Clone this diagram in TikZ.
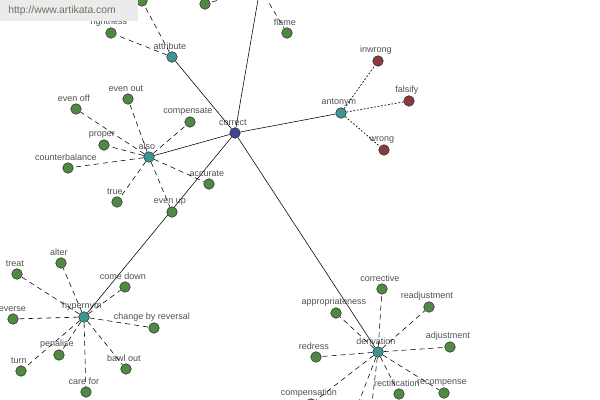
\documentclass[tikz,border=0pt]{standalone}
\usepackage{fontspec}
\setmainfont{Liberation Sans}
\definecolor{leafgreen}{RGB}{78,138,66}
\definecolor{relteal}{RGB}{58,150,148}
\definecolor{antired}{RGB}{138,58,60}
\definecolor{rootblue}{RGB}{62,68,150}
\definecolor{lblgray}{RGB}{80,80,80}
\definecolor{markgray}{RGB}{105,115,95}
\tikzset{
  dot/.style={circle,draw=black!80,line width=0.4pt,minimum size=7.5pt,inner sep=0pt},
  leaf/.style={dot,fill=leafgreen},
  rel/.style={dot,fill=relteal},
  anti/.style={dot,fill=antired},
  lbl/.style={text=lblgray,font=\fontsize{6.4}{7}\selectfont,inner sep=0.8pt,xshift=-1.5pt},
  dashlink/.style={line width=0.4pt,dash pattern=on 3.6pt off 2.8pt},
  dotlink/.style={line width=0.5pt,dash pattern=on 1.2pt off 1.3pt},
}

\begin{document}
\begin{tikzpicture}[x=0.025cm,y=-0.025cm,label distance=0pt]
   \useasboundingbox (0,0) rectangle (600,400);
   \clip (0,0) rectangle (600,400);
   % centre and relation nodes
   \node[dot,fill=rootblue,label={[lbl]above:correct}] (correct) at (235,133) {};
   \node[rel,label={[lbl]above:attribute}] (attribute) at (172,57) {};
   \node[rel,label={[lbl]above:antonym}] (antonym) at (341,113) {};
   \node[rel,label={[lbl]above:also}] (also) at (149,157) {};
   \node[rel,label={[lbl]above:hypernym}] (hypernym) at (84,317) {};
   \node[rel,label={[lbl]above:derivation}] (derivation) at (378,352) {};
   \coordinate (upper) at (260,-12);
   \foreach \r in {attribute,antonym,also,hypernym,derivation} {
    \draw[line width=0.4pt] (correct) -- (\r);
   }
   \draw[line width=0.4pt] (correct) -- (upper);
   % upper part
   \node[leaf,label={[lbl]above:rightness}] (rightness) at (111,33) {};
   \node[leaf] (attrtop) at (142,1) {};
   \draw[dashlink] (attribute) -- (rightness);
   \draw[dashlink] (attribute) -- (attrtop);
   \node[leaf,label={[lbl]above:flame}] (flame) at (287,33) {};
   \node[leaf] (uppertop) at (205,4) {};
   \draw[dashlink] (upper) -- (flame);
   \draw[dashlink] (upper) -- (uppertop);
   % antonym
   \foreach \n/\x/\y/\t in {inwrong/378/61/inwrong,falsify/409/101/falsify,wrong/384/150/wrong} {
    \node[anti,label={[lbl]above:\t}] (\n) at (\x,\y) {};
    \draw[dotlink] (antonym) -- (\n);
   }
   % also
   \foreach \n/\x/\y/\t in {evenoff/76/109/even off,evenout/128/99/even out,
      compensate/190/122/compensate,proper/104/145/proper,
      counterbal/68/168/counterbalance,true/117/202/true,
      accurate/209/184/accurate,evenup/172/212/even up} {
    \node[leaf,label={[lbl]above:\t}] (\n) at (\x,\y) {};
    \draw[dashlink] (also) -- (\n);
   }
   % hypernym
   \foreach \n/\x/\y/\t in {treat/17/274/treat,alter/61/263/alter,
      comedown/125/287/come down,reverse/13/319/reverse,
      changerev/154/328/change by reversal,penalise/59/355/penalise,
      turn/21/371/turn,bawlout/126/369/bawl out,carefor/86/392/care for} {
    \node[leaf,label={[lbl]above:\t}] (\n) at (\x,\y) {};
    \draw[dashlink] (hypernym) -- (\n);
   }
   % derivation
   \foreach \n/\x/\y/\t in {corrective/382/289/corrective,
      appropriate/336/313/appropriateness,readjust/429/307/readjustment,
      redress/316/357/redress,adjustment/450/347/adjustment,
      compensation/311/404/compensation,rectification/399/394/rectification,
      recompense/444/393/recompense} {
    \node[leaf,label={[lbl]above:\t}] (\n) at (\x,\y) {};
    \draw[dashlink] (derivation) -- (\n);
   }
   \coordinate (dlow1) at (352,420);
   \coordinate (dlow2) at (369,428);
   \draw[dashlink] (derivation) -- (dlow1);
   \draw[dashlink] (derivation) -- (dlow2);
   % site mark
   \fill[black!8] (0,0) rectangle (138,21);
   \node[text=markgray,font=\fontsize{7.4}{8}\selectfont,anchor=west,inner sep=0pt] (site) at (8,11) {http://www.artikata.com};
\end{tikzpicture}
\end{document}
